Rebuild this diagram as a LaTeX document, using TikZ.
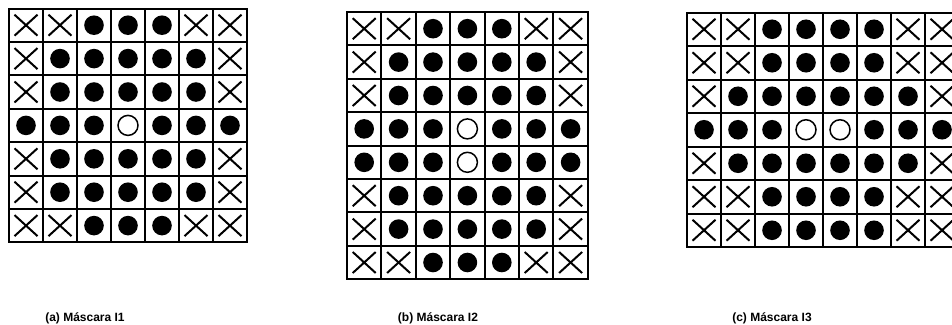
\documentclass[tikz,border=0pt]{standalone}
\usepackage{fontspec}
\setmainfont{Liberation Sans}
\tikzset{
  gridline/.style={line width=2pt, line cap=rect, black},
  xline/.style={line width=2pt, black},
  capstyle/.style={font=\bfseries\fontsize{12}{14}\selectfont, inner sep=0pt, anchor=base},
  mx/.pic={\draw[xline] (-11.5,-10.5) -- (11.5,10.5) (-11.5,10.5) -- (11.5,-10.5);},
  md/.pic={\fill[black] (0,0) circle[radius=9.8];},
  mo/.pic={\draw[black, line width=1.5pt] (0,0) circle[radius=10];}
}
\newcommand\maskgrid[7]{%
  \foreach \i in {0,...,#5} \draw[gridline] ({#1+\i*#3},#2) -- ({#1+\i*#3},{#2+#6*#4});
  \foreach \j in {0,...,#6} \draw[gridline] (#1,{#2+\j*#4}) -- ({#1+#5*#3},{#2+\j*#4});
  \foreach \row [count=\r] in {#7} {
    \foreach \s [count=\k] in \row {
      \pic at ({#1+(\k-0.5)*#3},{#2+(\r-0.5)*#4}) {m\s};
    }
  }%
}
\begin{document}
\begin{tikzpicture}[x=1pt,y=-1pt]
\useasboundingbox[fill=white] (0,0) rectangle (952,324);
\clip (0,0) rectangle (952,324);
% (a)
\maskgrid{9}{8.5}{34}{33.4}{7}{7}{%
  {x,x,d,d,d,x,x},{x,d,d,d,d,d,x},{x,d,d,d,d,d,x},{d,d,d,o,d,d,d},%
  {x,d,d,d,d,d,x},{x,d,d,d,d,d,x},{x,x,d,d,d,x,x}}
% (b)
\maskgrid{347}{12}{34.4}{33.4}{7}{8}{%
  {x,x,d,d,d,x,x},{x,d,d,d,d,d,x},{x,d,d,d,d,d,x},{d,d,d,o,d,d,d},%
  {d,d,d,o,d,d,d},{x,d,d,d,d,d,x},{x,d,d,d,d,d,x},{x,x,d,d,d,x,x}}
% (c)
\maskgrid{687}{12.5}{34}{33.5}{8}{7}{%
  {x,x,d,d,d,d,x,x},{x,x,d,d,d,d,x,x},{x,d,d,d,d,d,d,x},{d,d,d,o,o,d,d,d},%
  {x,d,d,d,d,d,d,x},{x,x,d,d,d,d,x,x},{x,x,d,d,d,d,x,x}}
\node[capstyle] (capa) at (85,321.5) {(a) Máscara I1};
\node[capstyle] (capb) at (438,321.5) {(b) Máscara I2};
\node[capstyle] (capc) at (772,321.5) {(c) Máscara I3};
\end{tikzpicture}
\end{document}
